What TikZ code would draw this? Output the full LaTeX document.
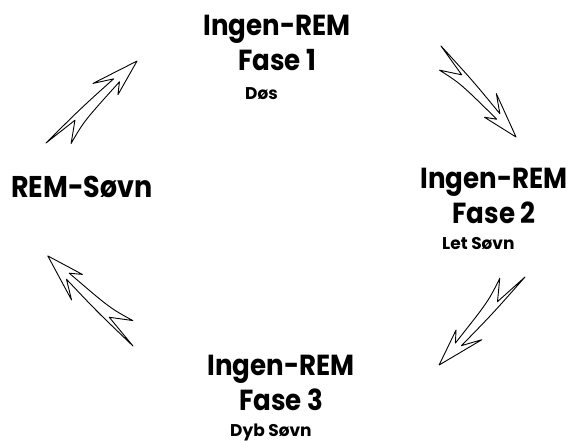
\documentclass[tikz,border=0pt]{standalone}
\usepackage{fontspec}
\setmainfont{Poppins}
\newfontfamily\smalfont{Poppins}[FakeStretch=0.9]
\usetikzlibrary{positioning}

\tikzset{
  pilstreg/.style={line width=0.9pt, line join=round},
  pil/.pic={
    \draw[pilstreg] (0,0) -- (0.30,0.02) -- (0.15,0.14)
      .. controls (0.35,0.075) .. (0.78,0.03) -- (0.70,0.10) -- (1,0)
      -- (0.61,-0.105) -- (0.76,-0.02) .. controls (0.40,-0.02) .. (0,0) -- cycle;
  },
  titel/.style={font=\smalfont\bfseries\fontsize{29}{35}\selectfont, align=center, inner sep=0pt, anchor=north},
  under/.style={font=\bfseries\fontsize{17}{19}\selectfont, inner sep=0pt, anchor=base west},
}

\begin{document}
\begin{tikzpicture}[x=1pt, y=-1pt]
  \useasboundingbox (0,0) rectangle (571,441);

  % faser
  \node[titel] (fase1) at (277,15)  {Ingen-REM\\Fase 1};
  \node[titel] (fase2) at (494,168) {Ingen-REM\\Fase 2};
  \node[titel] (fase3) at (281,355) {Ingen-REM\\Fase 3};
  \node[titel, font=\smalfont\bfseries\fontsize{30}{36}\selectfont, anchor=center] (rem) at (82,187) {REM-Søvn};

  \node[under] (dos) at (245,100) {Døs};
  \node[under] (let) at (442,250) {Let Søvn};
  \node[under] (dyb) at (230,436) {Dyb Søvn};

  % pile
  \coordinate (p1) at (441,46);
  \coordinate (p2) at (525,277);
  \coordinate (p3) at (133,346);
  \coordinate (p4) at (46,143);

  \pic[rotate=-50.5, scale=118] at (p1) {pil};
  \pic[rotate=-134.3, scale=123] at (p2) {pil};
  \pic[rotate=133.4, scale=124] at (p3) {pil};
  \pic[rotate=42.0, scale=122.5] at (p4) {pil};
\end{tikzpicture}
\end{document}
